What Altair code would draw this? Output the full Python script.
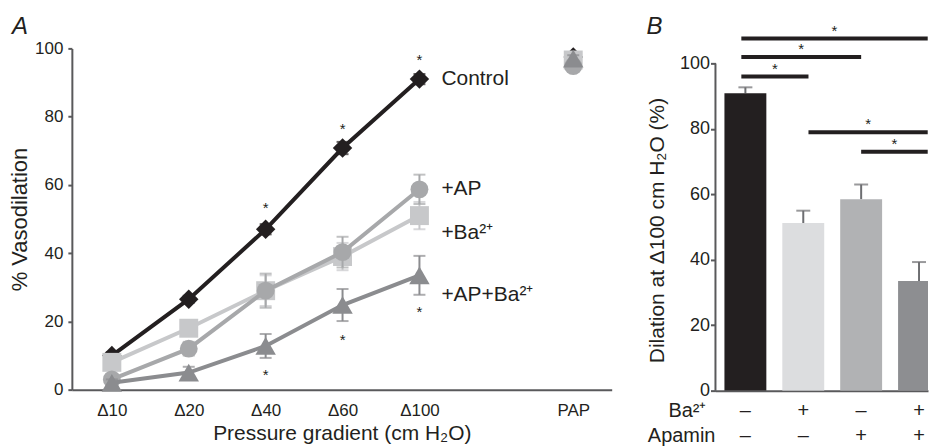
import altair as alt
import pandas as pd

FONT = "Liberation Sans"
TXT = "#231f20"
AXC = "#59595b"

# ---------------- Panel A data ----------------
conditions = ["Δ10", "Δ20", "Δ40", "Δ60", "Δ100", "PAP"]
cond_pos = [0, 1, 2, 3, 4, 6]
series_names = ["Control", "+Ba²⁺", "+AP", "+AP+Ba²⁺"]
series_colors = ["#231f20", "#c7c8ca", "#a7a8aa", "#8b8c8f"]
series_shapes = ["diamond", "square", "circle", "triangle-up"]
series_sizes = [380, 360, 320, 420]
series_vals = [
    [10, 26.5, 47, 70.8, 91, 97.5],      # Control
    [8, 18, 29, 39, 51, 96.6],           # +Ba2+
    [3, 12, 29, 40.3, 58.7, 94.8],       # +AP
    [2, 5, 12.8, 24.8, 33.5, 97],        # +AP+Ba2+
]
series_err = [
    [1, 1, 1.5, 1.8, 1.5, 1],
    [2, 2, 4.5, 4, 4, 1],
    [1.5, 2, 5, 4.5, 4.3, 1],
    [1, 1.7, 3.5, 4.7, 5.7, 1],
]
label_dy = [0, 17, 0, 20]
star_a_pos = [2, 3, 4, 2, 3, 4]
star_a_y = [54, 77.2, 97.4, 5.3, 15.5, 23.7]

# ---------------- Panel B data ----------------
b_pos = [0, 1, 2, 3]
b_values = [90.9, 51.2, 58.5, 33.5]
b_err = [1.8, 3.8, 4.5, 5.8]
b_colors = ["#231f20", "#dcdddf", "#b1b2b4", "#8d8e91"]
ba_signs = ["–", "+", "–", "+"]
apamin_signs = ["–", "–", "+", "+"]
row_labels = ["Ba²⁺", "Apamin"]
row_y = [-6.1, -13.8]
sig_x1 = [-0.07, -0.07, -0.07, 1.09, 2.0]
sig_x2 = [1.09, 2.0, 3.15, 3.15, 3.15]
sig_y = [96, 102, 107.6, 79, 73]

panel_letters = ["A", "B"]

# ---------------- Panel A chart ----------------
label_arr = [""] * 7
for p, c in zip(cond_pos, conditions):
    label_arr[p] = c
label_expr = "[" + ",".join("'" + s + "'" for s in label_arr) + "][datum.value]"

xA_dom = [-0.52, 6.5]
yA_dom = [0, 100]
xA = alt.Scale(domain=xA_dom, nice=False, zero=False, padding=0)
yA = alt.Scale(domain=yA_dom, nice=False, padding=0)

xA_axis = alt.Axis(values=cond_pos, labelExpr=label_expr, ticks=False, grid=False,
                   labelPadding=13, labelFontSize=17, title="Pressure gradient (cm H₂O)",
                   titleFontSize=21, titlePadding=4, titleFontWeight="normal",
                   domainColor=AXC, domainWidth=2, labelColor=TXT, titleColor=TXT)
yA_axis = alt.Axis(values=[0, 20, 40, 60, 80, 100], grid=False, tickSize=4, tickWidth=2,
                   tickColor=AXC, domainColor=AXC, domainWidth=2, labelPadding=5,
                   labelFontSize=17, title="% Vasodilation", titleFontSize=22,
                   titlePadding=3, titleFontWeight="normal", labelColor=TXT, titleColor=TXT)

layersA = []
for i, name in enumerate(series_names):
    vals = series_vals[i]
    err = series_err[i]
    df = pd.DataFrame({
        "pos": cond_pos,
        "val": vals,
        "lo": [v - e for v, e in zip(vals, err)],
        "hi": [v + e for v, e in zip(vals, err)],
    })
    df_line = df[df["pos"] <= 4]
    col = series_colors[i]
    base = alt.Chart(df)
    rule = base.mark_rule(color=col, strokeWidth=2).encode(
        x=alt.X("pos:Q", scale=xA, axis=xA_axis), y=alt.Y("lo:Q", scale=yA, axis=yA_axis), y2="hi:Q")
    cap_hi = base.mark_tick(color=col, orient="horizontal", size=12, thickness=2).encode(
        x="pos:Q", y="hi:Q")
    cap_lo = base.mark_tick(color=col, orient="horizontal", size=12, thickness=2).encode(
        x="pos:Q", y="lo:Q")
    line = alt.Chart(df_line).mark_line(color=col, strokeWidth=4).encode(x="pos:Q", y="val:Q")
    pts = base.mark_point(shape=series_shapes[i], size=series_sizes[i], filled=True,
                          color=col, opacity=1).encode(x="pos:Q", y="val:Q")
    lab = alt.Chart(pd.DataFrame({"pos": [4], "val": [vals[4]], "name": [name]})).mark_text(
        align="left", baseline="middle", dx=22, dy=label_dy[i], fontSize=21, color=TXT
    ).encode(x="pos:Q", y="val:Q", text="name:N")
    layersA += [rule, cap_hi, cap_lo, line, pts, lab]

starsA = alt.Chart(pd.DataFrame({"pos": star_a_pos, "val": star_a_y, "s": ["*"] * 6})).mark_text(
    fontSize=15, color=TXT, baseline="middle", dy=3).encode(x="pos:Q", y="val:Q", text="s:N")
letterA = alt.Chart(pd.DataFrame({"pos": [xA_dom[0]], "val": [yA_dom[1]], "s": [panel_letters[0]]})).mark_text(
    fontSize=24, fontStyle="italic", color=TXT, align="left", baseline="alphabetic", dx=-60, dy=-14
).encode(x="pos:Q", y="val:Q", text="s:N")
layersA += [starsA, letterA]

chartA = alt.layer(*layersA).properties(width=541, height=342)

# ---------------- Panel B chart ----------------
xB_dom = [-0.517, 3.155]
yB_dom = [0, 104.6]
xB = alt.Scale(domain=xB_dom, nice=False, zero=False, padding=0)
yB = alt.Scale(domain=yB_dom, nice=False, padding=0)
xB_axis = alt.Axis(labels=False, ticks=False, grid=False, title=None,
                   domainColor=AXC, domainWidth=2)
yB_axis = alt.Axis(values=[0, 20, 40, 60, 80, 100], grid=False, domain=False, tickSize=5,
                   tickWidth=2, tickColor=AXC, labelPadding=1, labelFontSize=18,
                   title="Dilation  at Δ100 cm H₂O (%)", titleFontSize=21, titlePadding=12,
                   titleFontWeight="normal", titleY=182, labelColor=TXT, titleColor=TXT)

dfB = pd.DataFrame({"pos": b_pos, "val": b_values,
                    "hi": [v + e for v, e in zip(b_values, b_err)],
                    "bar": ["b%d" % i for i in b_pos]})
baseB = alt.Chart(dfB)
errB = baseB.mark_rule(color="#6d6e71", strokeWidth=2).encode(
    x=alt.X("pos:Q", scale=xB, axis=xB_axis), y=alt.Y("val:Q", scale=yB, axis=yB_axis), y2="hi:Q")
capB = baseB.mark_tick(color="#6d6e71", orient="horizontal", size=14, thickness=2).encode(
    x="pos:Q", y="hi:Q")
bars = baseB.mark_bar(size=42, clip=True).encode(
    x="pos:Q", y="val:Q",
    color=alt.Color("bar:N", scale=alt.Scale(domain=list(dfB["bar"]), range=b_colors), legend=None))
axis_line = alt.Chart(pd.DataFrame({"a": [0]})).mark_rule(color=AXC, strokeWidth=2).encode(
    x=alt.value(0), y=alt.datum(0), y2=alt.datum(100))

dfSig = pd.DataFrame({"x1": sig_x1, "x2": sig_x2, "y": sig_y,
                      "mid": [(a + b) / 2 for a, b in zip(sig_x1, sig_x2)], "s": ["*"] * 5})
sig_lines = alt.Chart(dfSig).mark_rule(color=TXT, strokeWidth=4).encode(
    x="x1:Q", x2="x2:Q", y="y:Q")
sig_stars = alt.Chart(dfSig).mark_text(fontSize=15, color=TXT, baseline="middle", dy=-8).encode(
    x="mid:Q", y="y:Q", text="s:N")

tab_rows = []
for p in b_pos:
    tab_rows.append({"pos": p, "y": row_y[0], "s": ba_signs[p]})
    tab_rows.append({"pos": p, "y": row_y[1], "s": apamin_signs[p]})
signs = alt.Chart(pd.DataFrame(tab_rows)).mark_text(fontSize=20, color=TXT, baseline="middle").encode(
    x="pos:Q", y="y:Q", text="s:N")
rowlab_ba = alt.Chart(pd.DataFrame({"pos": [xB_dom[0]], "y": [row_y[0]], "s": [row_labels[0]]})).mark_text(
    fontSize=20, color=TXT, baseline="middle", align="right", dx=-9).encode(
    x="pos:Q", y="y:Q", text="s:N")
rowlab_ap = alt.Chart(pd.DataFrame({"pos": [xB_dom[0]], "y": [row_y[1]], "s": [row_labels[1]]})).mark_text(
    fontSize=20, color=TXT, baseline="middle", align="right", dx=0).encode(
    x="pos:Q", y="y:Q", text="s:N")
letterB = alt.Chart(pd.DataFrame({"pos": [xB_dom[0]], "val": [yB_dom[1]], "s": [panel_letters[1]]})).mark_text(
    fontSize=24, fontStyle="italic", color=TXT, align="left", baseline="alphabetic", dx=-69, dy=-14
).encode(x="pos:Q", y="val:Q", text="s:N")

chartB = alt.layer(errB, capB, bars, axis_line, sig_lines, sig_stars, signs,
                   rowlab_ba, rowlab_ap, letterB).properties(width=213, height=343)

chart = alt.hconcat(chartA, chartB, spacing=104, bounds="flush").properties(
    padding={"left": 0, "top": 7, "right": 0, "bottom": 0}
).configure_view(stroke=None).configure_axis(labelFont=FONT, titleFont=FONT).configure_text(
    font=FONT).configure_title(font=FONT)

chart.save("out.html", embed_options={"renderer": "svg", "actions": False})
